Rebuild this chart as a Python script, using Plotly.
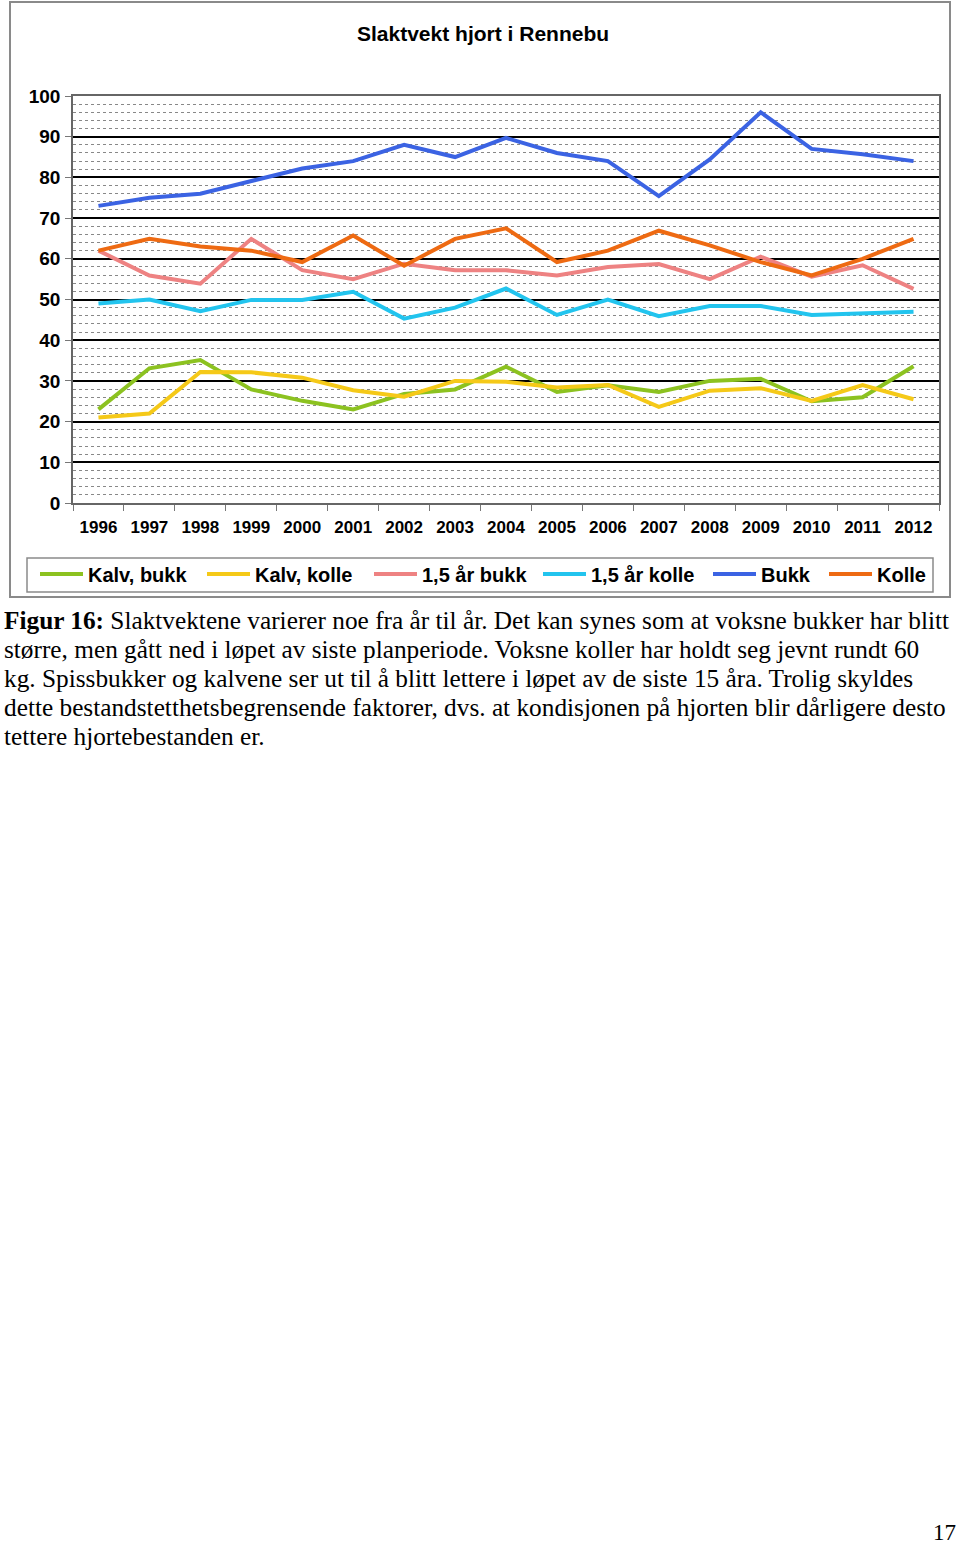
import plotly.graph_objects as go

years = [str(y) for y in range(1996, 2013)]

kalv_bukk = [23, 33.1, 35.1, 27.9, 25.1, 23, 26.8, 27.9, 33.5, 27.3, 28.9, 27.3, 30, 30.5, 25, 26, 33.6]
kalv_kolle = [21, 22, 32.2, 32.1, 30.8, 27.7, 26.1, 30, 29.8, 28.4, 29, 23.6, 27.6, 28.2, 25.1, 29, 25.5]
aar_bukk = [62, 55.9, 53.9, 64.9, 57.2, 55, 58.8, 57.2, 57.2, 55.9, 58, 58.7, 55, 60.5, 55.6, 58.4, 52.6]
aar_kolle = [49, 50, 47.1, 49.9, 49.9, 51.9, 45.3, 48, 52.7, 46.2, 50, 45.9, 48.4, 48.4, 46.2, 46.6, 47]
bukk = [73, 75, 76, 79, 82.2, 84, 88, 85, 89.7, 86, 84, 75.4, 84.4, 96, 87, 85.7, 84]
kolle = [62, 64.9, 63, 62, 59.2, 65.7, 58.3, 64.9, 67.5, 59.2, 62, 66.9, 63.3, 59.2, 55.9, 60, 64.9]

names = ["Kalv, bukk", "Kalv, kolle", "1,5 år bukk", "1,5 år kolle", "Bukk", "Kolle"]
colors = ["#8CC220", "#F5C918", "#EE8282", "#22C4EE", "#3B63E3", "#EE6A12"]
series = [kalv_bukk, kalv_kolle, aar_bukk, aar_kolle, bukk, kolle]

caption = [
    "<b>Figur 16:</b> Slaktvektene varierer noe fra år til år. Det kan synes som at voksne bukker har blitt",
    "større, men gått ned i løpet av siste planperiode. Voksne koller har holdt seg jevnt rundt 60",
    "kg. Spissbukker og kalvene ser ut til å blitt lettere i løpet av de siste 15 åra. Trolig skyldes",
    "dette bestandstetthetsbegrensende faktorer, dvs. at kondisjonen på hjorten blir dårligere desto",
    "tettere hjortebestanden er.",
]

W, H = 960, 1543
L, R, T, B = 73, 939, 96, 503   # plot area in page pixels


def px(x):
    return (x - L) / (R - L)


def py(y):
    return (B - y) / (B - T)


sans = "Liberation Sans"
serif = "Liberation Serif"

fig = go.Figure()
for name, vals, col in zip(names, series, colors):
    fig.add_trace(go.Scatter(x=years, y=vals, name=name, mode="lines",
                             line=dict(color=col, width=4), showlegend=False))

shapes = []
annotations = []

# outer chart frame
shapes.append(dict(type="rect", xref="paper", yref="paper", x0=px(10), x1=px(950),
                   y0=py(597), y1=py(2), line=dict(color="#8a8a8a", width=2), layer="below"))
# legend box
shapes.append(dict(type="rect", xref="paper", yref="paper", x0=px(27), x1=px(933),
                   y0=py(592), y1=py(558), line=dict(color="#8a8a8a", width=1.5)))

legend_x = [40, 207, 374, 543, 713, 829]
for lx, name, col in zip(legend_x, names, colors):
    shapes.append(dict(type="line", xref="paper", yref="paper", x0=px(lx), x1=px(lx + 43),
                       y0=py(574), y1=py(574), line=dict(color=col, width=4)))
    annotations.append(dict(x=px(lx + 46), y=py(575), xref="paper", yref="paper",
                            xanchor="left", yanchor="middle", showarrow=False, text=name,
                            font=dict(family=sans, size=20, color="black", weight="bold")))

annotations.append(dict(x=px(483), y=py(33), xref="paper", yref="paper", showarrow=False,
                        xanchor="center", yanchor="middle", text="Slaktvekt hjort i Rennebu",
                        font=dict(family=sans, size=21, color="black", weight="bold")))

for i, line in enumerate(caption):
    annotations.append(dict(x=px(2), y=py(620 + 29 * i), xref="paper", yref="paper",
                            xanchor="left", yanchor="middle", showarrow=False, text=line,
                            font=dict(family=serif, size=25.3, color="black")))

annotations.append(dict(x=px(958), y=py(1532), xref="paper", yref="paper", showarrow=False,
                        xanchor="right", yanchor="middle", text="17",
                        font=dict(family=serif, size=23, color="black")))

fig.update_layout(
    width=W, height=H,
    margin=dict(l=L, r=W - R, t=T, b=H - B, pad=0),
    plot_bgcolor="white", paper_bgcolor="white",
    shapes=shapes, annotations=annotations,
    showlegend=False,
)
fig.update_xaxes(
    type="category", tickson="boundaries", ticks="outside", ticklen=6, tickcolor="#777",
    showline=True, linecolor="#666", linewidth=1.5, mirror=True, showgrid=False,
    tickfont=dict(family=sans, size=17, color="black", weight="bold"), ticklabelstandoff=8,
    range=[-0.5, 16.5],
)
fig.update_yaxes(
    range=[0, 100], dtick=10, ticks="outside", ticklen=6, tickcolor="#777",
    showline=True, linecolor="#666", linewidth=1.5, mirror=True,
    showgrid=True, gridcolor="black", gridwidth=2, zeroline=False,
    minor=dict(dtick=2, showgrid=True, gridcolor="#888", griddash="dot", gridwidth=1),
    tickfont=dict(family=sans, size=19, color="black", weight="bold"), ticklabelstandoff=1,
)

# drop the browser's default 8px body margin so the figure fills the window
fig.write_html("out.html", config={"displayModeBar": False},
               post_script="document.body.style.margin = '0';")
